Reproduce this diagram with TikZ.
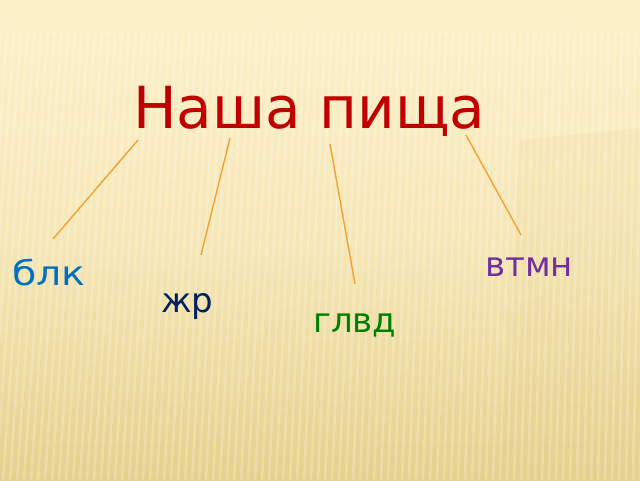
\documentclass[tikz,border=0pt]{standalone}
\usepackage{fontspec}
\usepackage{graphicx}
\setmainfont{DejaVu Sans}
\usetikzlibrary{positioning}
\definecolor{bg_top}{RGB}{253, 241, 201}
\definecolor{bg_bot}{RGB}{230, 208, 140}
\definecolor{title_red}{RGB}{192, 0, 0}
\definecolor{link_orange}{RGB}{243, 160, 52}
\definecolor{lbl_blue}{RGB}{0, 112, 192}
\definecolor{lbl_navy}{RGB}{0, 32, 96}
\definecolor{lbl_green}{RGB}{0, 128, 0}
\definecolor{lbl_purple}{RGB}{112, 48, 160}
\tikzstyle{ttl}=[anchor=base west,inner sep=0pt,text=title_red,
  font=\fontsize{58}{60}\selectfont]
\tikzstyle{lbl}=[anchor=base west,inner sep=0pt,
  font=\fontsize{34}{36}\selectfont]
\tikzstyle{link}=[draw=link_orange,line width=1.4pt]
\tikzstyle{stripe}=[draw=white,line width=2.6pt,opacity=0.22]

\begin{document}
\begin{tikzpicture}[x=1pt,y=-1pt]
    % background
    \useasboundingbox (0,0) rectangle (640,480);
    \shade[top color=bg_top,bottom color=bg_bot,middle color=bg_top!70!bg_bot]
      (0,0) rectangle (640,480);
    \fill[bg_bot,opacity=0.15] (520,140) -- (640,128) -- (640,480) -- (500,480) -- cycle;
    \begin{scope}
      \clip (0,30) rectangle (640,480);
      \foreach \b in {-60,-53,...,680}
        \draw[stripe] (\b,480) -- ({\b+(900-\b)*0.035},30);
    \end{scope}
    \shade[top color=bg_top,bottom color=bg_top,opacity=0.8] (0,0) rectangle (640,30);
    % text
    \node [style=ttl] (food) at (133,128) {Наша пища};
    \node [style=lbl,text=lbl_blue] (milk) at (12,285) {\scalebox{1.16}[1]{блк}};
    \node [style=lbl,text=lbl_navy] (fat) at (161,312) {жр};
    \node [style=lbl,text=lbl_green] (carb) at (313,332) {глвд};
    \node [style=lbl,text=lbl_purple] (vit) at (485,276) {втмн};
    % line ends
    \coordinate (1s) at (138,140);
    \coordinate (2s) at (230,138);
    \coordinate (3s) at (330,144);
    \coordinate (4s) at (466,135);
    \coordinate (1e) at (53,239);
    \coordinate (2e) at (201,255);
    \coordinate (3e) at (355,284);
    \coordinate (4e) at (521,235);
    \draw [style=link] (1s) to (1e);
    \draw [style=link] (2s) to (2e);
    \draw [style=link] (3s) to (3e);
    \draw [style=link] (4s) to (4e);
  \end{tikzpicture}
\end{document}
